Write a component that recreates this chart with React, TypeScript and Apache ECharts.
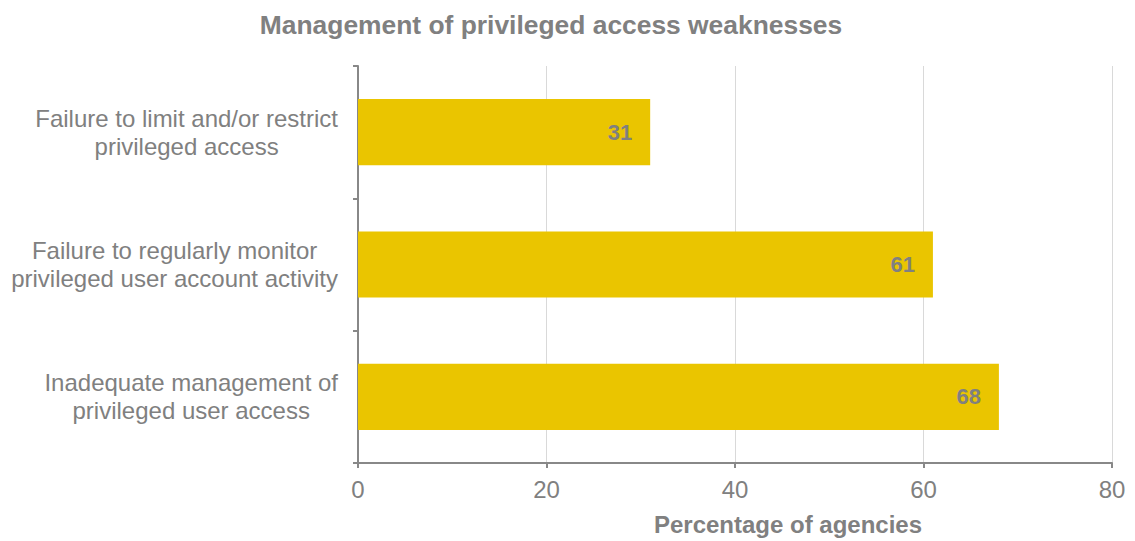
import React, { useEffect, useRef } from "react";
import * as echarts from "echarts";

const categories = [
  "Failure to limit and/or restrict\nprivileged access",
  "Failure to regularly monitor\nprivileged user account activity",
  "Inadequate management of\nprivileged user access",
];
const values = [31, 61, 68];
const titleText = "Management of privileged access weaknesses";
const xAxisName = "Percentage of agencies";

const GRAY = "#808080";
const FONT = "Liberation Sans, Arial, sans-serif";

export default function App() {
  const ref = useRef<HTMLDivElement>(null);
  useEffect(() => {
    if (!ref.current) return;
    const chart = echarts.init(ref.current, null, { renderer: "svg" });
    chart.setOption({
      animation: false,
      textStyle: { fontFamily: FONT },
      title: {
        text: titleText,
        left: 546,
        textAlign: "center",
        top: 7,
        textStyle: { fontFamily: FONT, fontSize: 26.4, fontWeight: "bold", color: GRAY },
      },
      grid: { left: 358, right: 23, top: 66, bottom: 77, containLabel: false },
      xAxis: {
        type: "value",
        min: 0,
        max: 80,
        interval: 20,
        name: xAxisName,
        nameLocation: "middle",
        nameGap: 49,
        nameTextStyle: {
          fontFamily: FONT,
          fontSize: 24,
          fontWeight: "bold",
          color: GRAY,
          padding: [0, 0, 0, 106],
        },
        axisLine: { show: true, lineStyle: { color: "#888888", width: 2 } },
        axisTick: { show: true, length: 5, lineStyle: { color: "#888888", width: 2 } },
        axisLabel: { fontFamily: FONT, fontSize: 24, color: GRAY, margin: 14 },
        splitLine: { show: true, lineStyle: { color: "#d9d9d9", width: 1 } },
      },
      yAxis: {
        type: "category",
        data: categories,
        inverse: true,
        axisLine: { show: true, lineStyle: { color: "#888888", width: 2 } },
        axisTick: { show: true, length: 5, lineStyle: { color: "#888888", width: 2 } },
        axisLabel: {
          margin: 20,
          align: "right",
          formatter: (v: string) =>
            v
              .split("\n")
              .map((s) => "{a|" + s + "}")
              .join("\n"),
          rich: {
            a: {
              fontFamily: FONT,
              fontSize: 24,
              lineHeight: 28,
              color: GRAY,
              align: "center",
            },
          },
        },
        splitLine: { show: false },
      },
      series: [
        {
          type: "bar",
          data: values,
          barWidth: "50%",
          itemStyle: { color: "#EAC500" },
          label: {
            show: true,
            position: "insideRight",
            distance: 18,
            fontFamily: FONT,
            fontSize: 22,
            fontWeight: "bold",
            color: GRAY,
          },
        },
      ],
    });
    return () => chart.dispose();
  }, []);
  return (
    <div
      ref={ref}
      style={{ position: "fixed", left: 0, top: 0, width: 1135, height: 541, background: "#fff" }}
    />
  );
}
